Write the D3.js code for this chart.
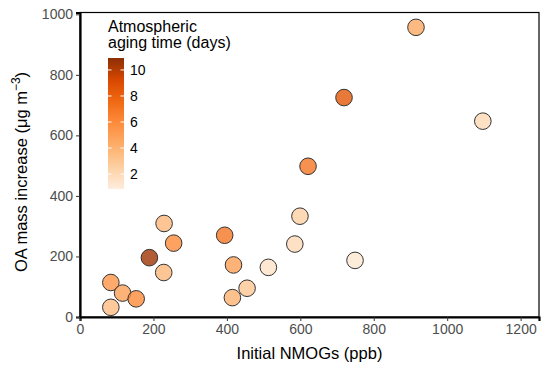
<!DOCTYPE html>
<html>
<head>
<meta charset="utf-8">
<script src="https://cdn.jsdelivr.net/npm/d3@7"></script>
<style>
  body { margin: 0; background: #fff; }
  text { font-family: "Liberation Sans", Arial, sans-serif; }
</style>
</head>
<body>
<svg id="chart" width="541" height="366"></svg>
<script>
// data
var nmog = [84, 84, 116, 153, 189, 228, 229, 255, 394, 418, 415, 455, 513, 585, 599, 749, 621, 719, 915, 1097];
var oaIncrease = [32, 114, 79, 60, 196, 147, 309, 244, 270, 172, 64, 95, 164, 241, 333, 187, 498, 725, 957, 647];
var agingDays = [3.5, 5.5, 5, 6, 10.5, 3.8, 3.8, 6, 7, 5, 4, 3, 1.5, 2, 2.5, 1.2, 7, 8.5, 4.5, 2];
var xTicks = [0, 200, 400, 600, 800, 1000, 1200];
var yTicks = [0, 200, 400, 600, 800, 1000];
var legendTicks = [2, 4, 6, 8, 10];
var oranges = ["#feedde", "#fdd0a2", "#fdae6b", "#fd8d3c", "#f16913", "#d94801", "#8c2d04"];

var svg = d3.select("#chart");
var pLeft = 80, pRight = 539, pTop = 12.5, pBottom = 317;

var x = d3.scaleLinear().domain([0, 1250]).range([pLeft, pRight]);
var y = d3.scaleLinear().domain([0, 1006]).range([pBottom, pTop]);

var dayMin = 0.85, dayMax = 10.92;
var color = d3.scaleLinear()
    .domain(oranges.map((c, i) => dayMin + i * (dayMax - dayMin) / (oranges.length - 1)))
    .range(oranges)
    .interpolate(d3.interpolateLab);

// panel border
svg.append("rect")
    .attr("x", pLeft).attr("y", pTop)
    .attr("width", pRight - pLeft).attr("height", pBottom - pTop)
    .attr("fill", "none").attr("stroke", "#000").attr("stroke-width", 1.2);

// axes
var xAxis = svg.append("g")
    .attr("transform", "translate(0," + pBottom + ")")
    .call(d3.axisBottom(x).tickValues(xTicks).tickFormat(d3.format("d")).tickSize(4).tickPadding(3));
var yAxis = svg.append("g")
    .attr("transform", "translate(" + pLeft + ",0)")
    .call(d3.axisLeft(y).tickValues(yTicks).tickFormat(d3.format("d")).tickSize(4).tickPadding(3));

[xAxis, yAxis].forEach(function (g) {
    g.select(".domain").attr("stroke", "#000").attr("stroke-width", 2.2);
    g.selectAll(".tick line").attr("stroke", "#333").attr("stroke-width", 1);
    g.selectAll(".tick text")
        .attr("fill", "#4d4d4d")
        .style("font-size", "14px")
        .style("font-family", "'Liberation Sans', Arial, sans-serif");
});

// axis titles
svg.append("text")
    .attr("x", (pLeft + pRight) / 2)
    .attr("y", 359)
    .attr("text-anchor", "middle")
    .style("font-size", "16.5px")
    .text("Initial NMOGs (ppb)");

var yTitle = svg.append("text")
    .attr("transform", "translate(27," + 172 + ") rotate(-90)")
    .attr("text-anchor", "middle")
    .style("font-size", "16.5px");
yTitle.append("tspan").text("OA mass increase (μg m");
yTitle.append("tspan").attr("dy", -7).style("font-size", "12px").text("−3");
yTitle.append("tspan").attr("dy", 7).text(")");

// points
svg.append("g").selectAll("circle")
    .data(nmog)
    .join("circle")
    .attr("cx", (d, i) => x(nmog[i]))
    .attr("cy", (d, i) => y(oaIncrease[i]))
    .attr("r", 8.3)
    .attr("fill", (d, i) => color(agingDays[i]))
    .attr("fill-opacity", 0.8)
    .attr("stroke", "#333")
    .attr("stroke-width", 1);

// legend
var legX = 108, barW = 16, barTop = 58, barBottom = 189;
svg.append("text").attr("x", legX).attr("y", 31.5)
    .style("font-size", "16px").text("Atmospheric");
svg.append("text").attr("x", legX).attr("y", 48)
    .style("font-size", "16px").text("aging time (days)");

var ly = d3.scaleLinear().domain([dayMin, dayMax]).range([barBottom, barTop]);
var grad = svg.append("defs").append("linearGradient")
    .attr("id", "agingGrad")
    .attr("x1", 0).attr("y1", 1).attr("x2", 0).attr("y2", 0);
d3.range(0, 1.0001, 0.05).forEach(function (t) {
    grad.append("stop")
        .attr("offset", t)
        .attr("stop-color", color(dayMin + t * (dayMax - dayMin)));
});
svg.append("rect")
    .attr("x", legX).attr("y", barTop)
    .attr("width", barW).attr("height", barBottom - barTop)
    .attr("fill", "url(#agingGrad)");

var lt = svg.append("g").selectAll("g").data(legendTicks).join("g");
lt.append("line")
    .attr("x1", legX).attr("x2", legX + 3.5)
    .attr("y1", d => ly(d)).attr("y2", d => ly(d))
    .attr("stroke", "#fff").attr("stroke-width", 1);
lt.append("line")
    .attr("x1", legX + barW - 3.5).attr("x2", legX + barW)
    .attr("y1", d => ly(d)).attr("y2", d => ly(d))
    .attr("stroke", "#fff").attr("stroke-width", 1);
lt.append("text")
    .attr("x", legX + barW + 6)
    .attr("y", d => ly(d) + 5)
    .style("font-size", "14px")
    .text(d => d);
</script>
</body>
</html>
